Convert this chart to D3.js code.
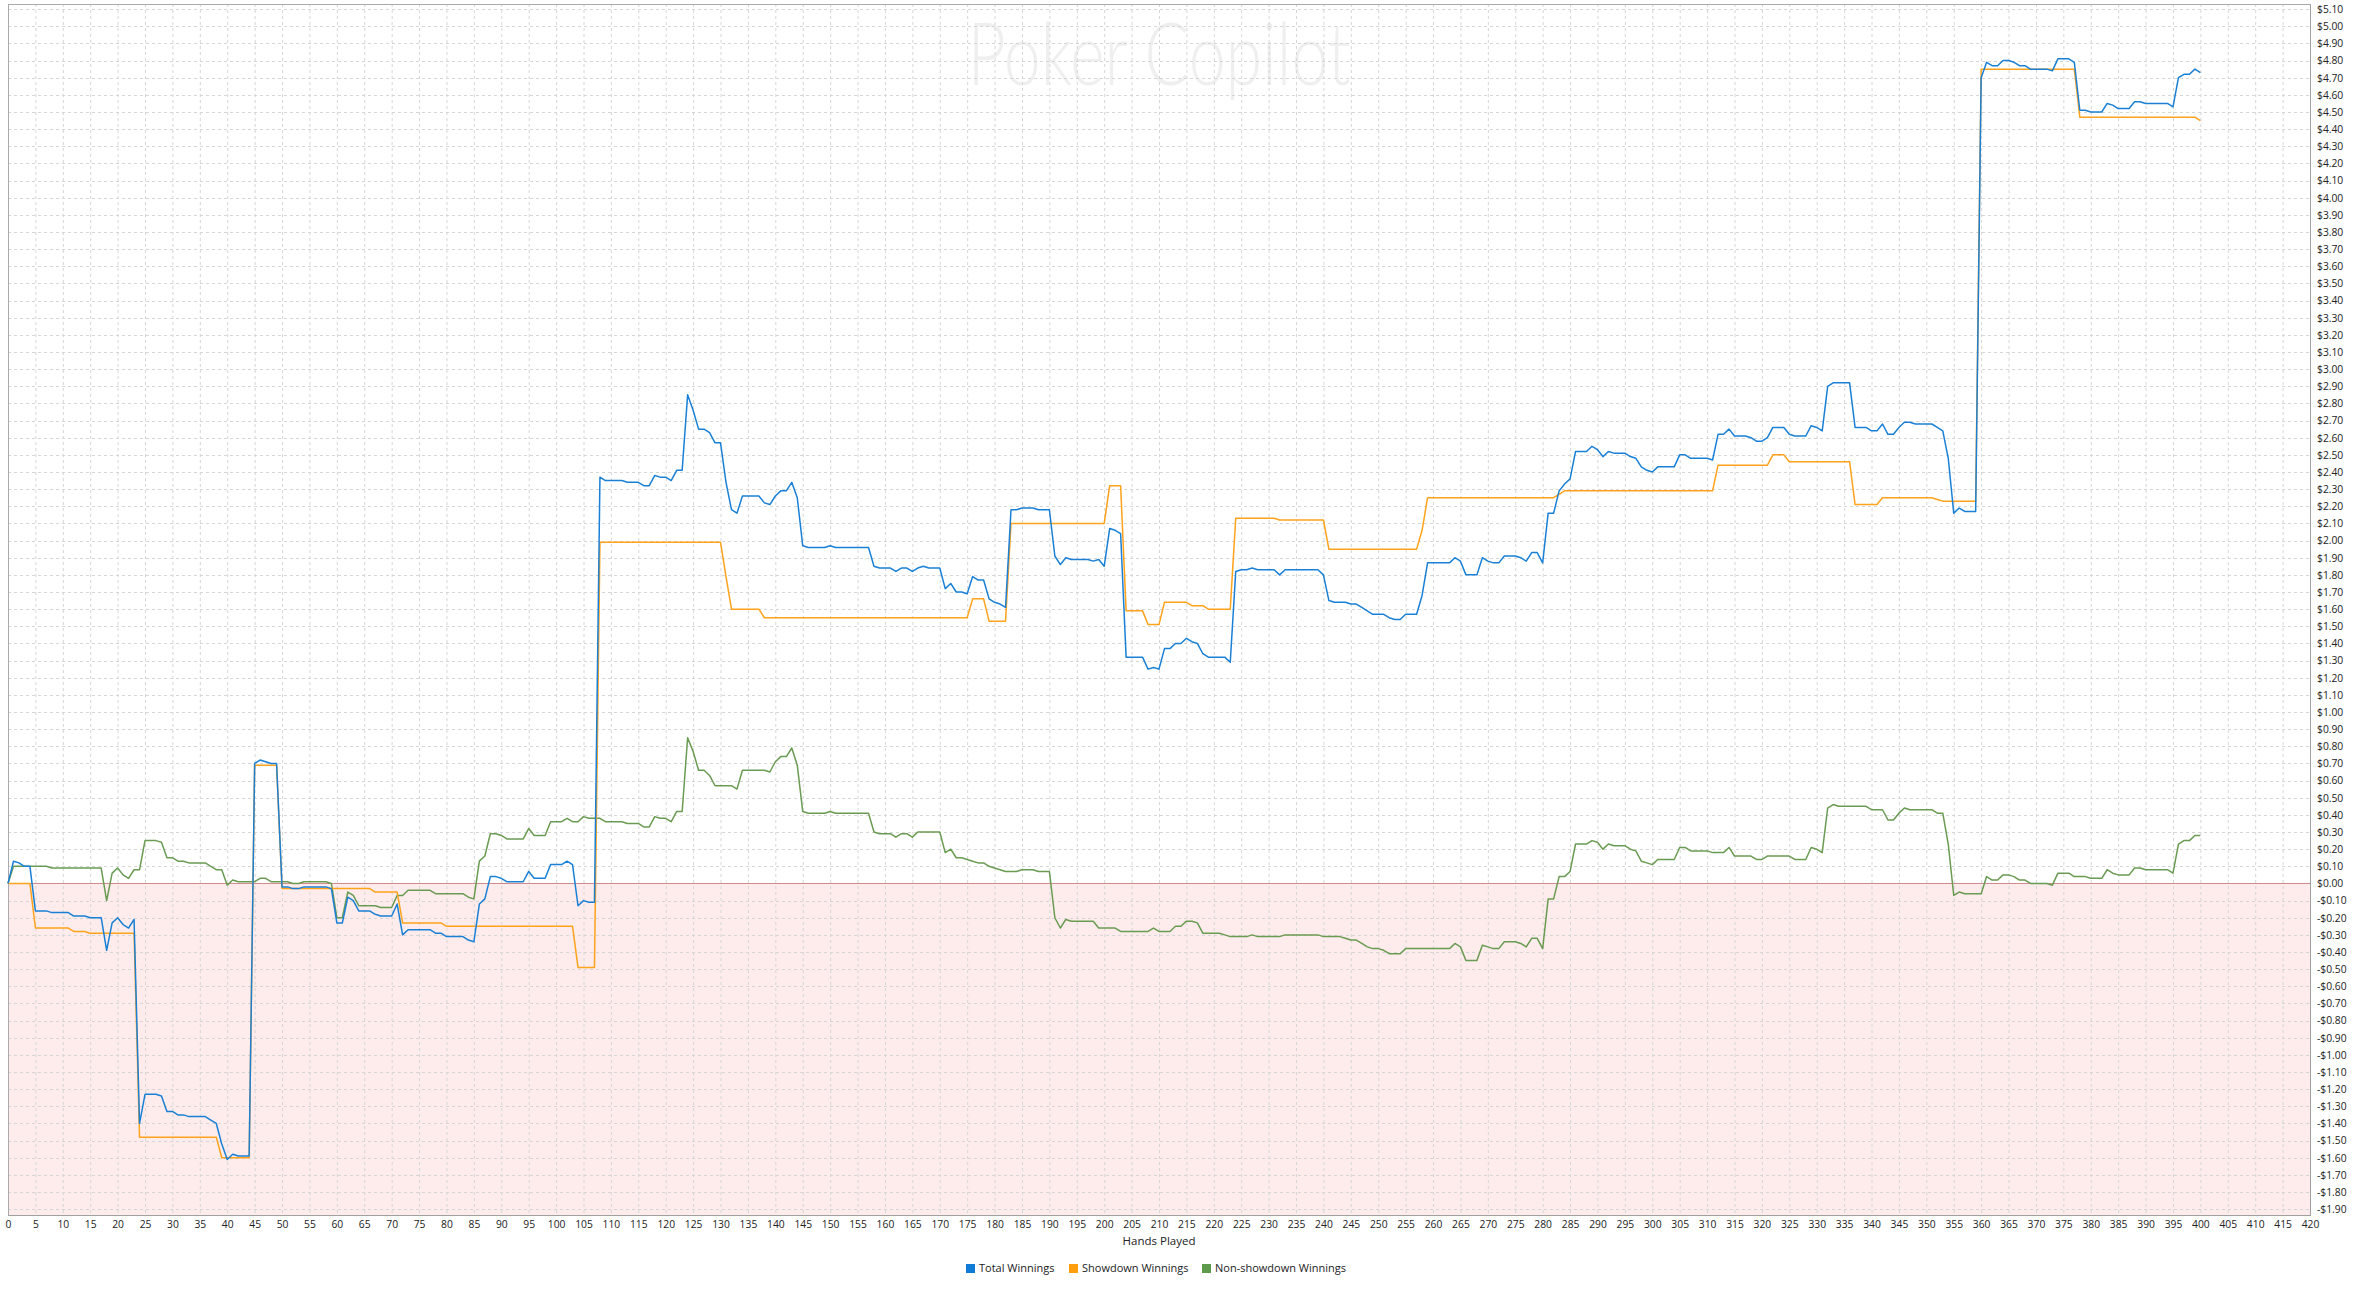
<!DOCTYPE html>
<html><head><meta charset="utf-8">
<script src="https://cdn.jsdelivr.net/npm/d3@7"></script>
<style>
html,body{margin:0;padding:0;background:#fff;}
svg{display:block;}
text{font-family:"Open Sans","Liberation Sans",sans-serif;fill:#222;}
</style></head><body>
<svg id="chart" width="2359" height="1290"></svg>
<script>
// ---------- DATA ----------
const seriesNames = ["Total Winnings", "Showdown Winnings", "Non-showdown Winnings"];
const seriesColors = ["#1a80d6", "#ffa21c", "#6a9b52"];
const legendColors = ["#0f7bd6", "#ff9f0f", "#5e9a4b"];

const totalWinnings = [
 0.00, 0.13, 0.12, 0.10, 0.10,-0.16,-0.16,-0.16,-0.17,-0.17,
-0.17,-0.17,-0.19,-0.19,-0.19,-0.20,-0.20,-0.20,-0.39,-0.23,
-0.20,-0.24,-0.26,-0.21,-1.40,-1.23,-1.23,-1.23,-1.24,-1.33,
-1.33,-1.35,-1.35,-1.36,-1.36,-1.36,-1.36,-1.38,-1.40,-1.52,
-1.61,-1.58,-1.59,-1.59,-1.59, 0.70, 0.72, 0.71, 0.70, 0.70,
-0.02,-0.02,-0.03,-0.03,-0.02,-0.02,-0.02,-0.02,-0.02,-0.03,
-0.23,-0.23,-0.08,-0.10,-0.16,-0.16,-0.16,-0.18,-0.19,-0.19,
-0.19,-0.12,-0.30,-0.27,-0.27,-0.27,-0.27,-0.27,-0.29,-0.29,
-0.31,-0.31,-0.31,-0.31,-0.33,-0.34,-0.12,-0.09, 0.04, 0.04,
 0.03, 0.01, 0.01, 0.01, 0.01, 0.07, 0.03, 0.03, 0.03, 0.11,
 0.11, 0.11, 0.13, 0.11,-0.13,-0.10,-0.11,-0.11, 2.37, 2.35,
 2.35, 2.35, 2.35, 2.34, 2.34, 2.34, 2.32, 2.32, 2.38, 2.37,
 2.37, 2.35, 2.41, 2.41, 2.85, 2.76, 2.65, 2.65, 2.63, 2.57,
 2.57, 2.34, 2.18, 2.16, 2.26, 2.26, 2.26, 2.26, 2.22, 2.21,
 2.26, 2.29, 2.29, 2.34, 2.25, 1.97, 1.96, 1.96, 1.96, 1.96,
 1.97, 1.96, 1.96, 1.96, 1.96, 1.96, 1.96, 1.96, 1.85, 1.84,
 1.84, 1.84, 1.82, 1.84, 1.84, 1.82, 1.84, 1.85, 1.84, 1.84,
 1.84, 1.72, 1.75, 1.70, 1.70, 1.69, 1.79, 1.77, 1.77, 1.66,
 1.64, 1.63, 1.61, 2.18, 2.18, 2.19, 2.19, 2.19, 2.18, 2.18,
 2.18, 1.91, 1.86, 1.90, 1.89, 1.89, 1.89, 1.89, 1.88, 1.89,
 1.85, 2.07, 2.06, 2.04, 1.32, 1.32, 1.32, 1.32, 1.25, 1.26,
 1.25, 1.37, 1.37, 1.40, 1.40, 1.43, 1.41, 1.40, 1.34, 1.32,
 1.32, 1.32, 1.32, 1.29, 1.82, 1.83, 1.83, 1.84, 1.83, 1.83,
 1.83, 1.83, 1.80, 1.83, 1.83, 1.83, 1.83, 1.83, 1.83, 1.83,
 1.80, 1.65, 1.64, 1.64, 1.64, 1.63, 1.63, 1.61, 1.59, 1.57,
 1.57, 1.57, 1.55, 1.54, 1.54, 1.57, 1.57, 1.57, 1.68, 1.87,
 1.87, 1.87, 1.87, 1.87, 1.90, 1.88, 1.80, 1.80, 1.80, 1.90,
 1.88, 1.87, 1.87, 1.91, 1.91, 1.91, 1.90, 1.88, 1.93, 1.93,
 1.87, 2.16, 2.16, 2.29, 2.33, 2.36, 2.52, 2.52, 2.52, 2.55,
 2.53, 2.49, 2.52, 2.51, 2.51, 2.51, 2.49, 2.48, 2.43, 2.41,
 2.40, 2.43, 2.43, 2.43, 2.43, 2.50, 2.50, 2.48, 2.48, 2.48,
 2.48, 2.47, 2.62, 2.62, 2.65, 2.61, 2.61, 2.61, 2.60, 2.58,
 2.58, 2.60, 2.66, 2.66, 2.66, 2.62, 2.61, 2.61, 2.61, 2.67,
 2.66, 2.64, 2.90, 2.92, 2.92, 2.92, 2.92, 2.66, 2.66, 2.66,
 2.64, 2.64, 2.68, 2.62, 2.62, 2.66, 2.69, 2.69, 2.68, 2.68,
 2.68, 2.68, 2.66, 2.64, 2.48, 2.16, 2.19, 2.17, 2.17, 2.17,
 4.70, 4.79, 4.77, 4.77, 4.80, 4.80, 4.79, 4.77, 4.77, 4.75,
 4.75, 4.75, 4.75, 4.74, 4.81, 4.81, 4.81, 4.79, 4.51, 4.51,
 4.50, 4.50, 4.50, 4.55, 4.54, 4.52, 4.52, 4.52, 4.56, 4.56,
 4.55, 4.55, 4.55, 4.55, 4.55, 4.53, 4.70, 4.72, 4.72, 4.75,
 4.73];

const showdownWinnings = [
 0.00, 0.00, 0.00, 0.00, 0.00,-0.26,-0.26,-0.26,-0.26,-0.26,
-0.26,-0.26,-0.28,-0.28,-0.28,-0.29,-0.29,-0.29,-0.29,-0.29,
-0.29,-0.29,-0.29,-0.29,-1.48,-1.48,-1.48,-1.48,-1.48,-1.48,
-1.48,-1.48,-1.48,-1.48,-1.48,-1.48,-1.48,-1.48,-1.48,-1.60,
-1.60,-1.60,-1.60,-1.60,-1.60, 0.69, 0.69, 0.69, 0.69, 0.69,
-0.03,-0.03,-0.03,-0.03,-0.03,-0.03,-0.03,-0.03,-0.03,-0.03,
-0.03,-0.03,-0.03,-0.03,-0.03,-0.03,-0.03,-0.05,-0.05,-0.05,
-0.05,-0.05,-0.23,-0.23,-0.23,-0.23,-0.23,-0.23,-0.23,-0.23,
-0.25,-0.25,-0.25,-0.25,-0.25,-0.25,-0.25,-0.25,-0.25,-0.25,
-0.25,-0.25,-0.25,-0.25,-0.25,-0.25,-0.25,-0.25,-0.25,-0.25,
-0.25,-0.25,-0.25,-0.25,-0.49,-0.49,-0.49,-0.49, 1.99, 1.99,
 1.99, 1.99, 1.99, 1.99, 1.99, 1.99, 1.99, 1.99, 1.99, 1.99,
 1.99, 1.99, 1.99, 1.99, 1.99, 1.99, 1.99, 1.99, 1.99, 1.99,
 1.99, 1.79, 1.60, 1.60, 1.60, 1.60, 1.60, 1.60, 1.55, 1.55,
 1.55, 1.55, 1.55, 1.55, 1.55, 1.55, 1.55, 1.55, 1.55, 1.55,
 1.55, 1.55, 1.55, 1.55, 1.55, 1.55, 1.55, 1.55, 1.55, 1.55,
 1.55, 1.55, 1.55, 1.55, 1.55, 1.55, 1.55, 1.55, 1.55, 1.55,
 1.55, 1.55, 1.55, 1.55, 1.55, 1.55, 1.66, 1.66, 1.66, 1.53,
 1.53, 1.53, 1.53, 2.10, 2.10, 2.10, 2.10, 2.10, 2.10, 2.10,
 2.10, 2.10, 2.10, 2.10, 2.10, 2.10, 2.10, 2.10, 2.10, 2.10,
 2.10, 2.32, 2.32, 2.32, 1.59, 1.59, 1.59, 1.59, 1.51, 1.51,
 1.51, 1.64, 1.64, 1.64, 1.64, 1.64, 1.62, 1.62, 1.62, 1.60,
 1.60, 1.60, 1.60, 1.60, 2.13, 2.13, 2.13, 2.13, 2.13, 2.13,
 2.13, 2.13, 2.12, 2.12, 2.12, 2.12, 2.12, 2.12, 2.12, 2.12,
 2.12, 1.95, 1.95, 1.95, 1.95, 1.95, 1.95, 1.95, 1.95, 1.95,
 1.95, 1.95, 1.95, 1.95, 1.95, 1.95, 1.95, 1.95, 2.06, 2.25,
 2.25, 2.25, 2.25, 2.25, 2.25, 2.25, 2.25, 2.25, 2.25, 2.25,
 2.25, 2.25, 2.25, 2.25, 2.25, 2.25, 2.25, 2.25, 2.25, 2.25,
 2.25, 2.25, 2.25, 2.27, 2.29, 2.29, 2.29, 2.29, 2.29, 2.29,
 2.29, 2.29, 2.29, 2.29, 2.29, 2.29, 2.29, 2.29, 2.29, 2.29,
 2.29, 2.29, 2.29, 2.29, 2.29, 2.29, 2.29, 2.29, 2.29, 2.29,
 2.29, 2.29, 2.44, 2.44, 2.44, 2.44, 2.44, 2.44, 2.44, 2.44,
 2.44, 2.44, 2.50, 2.50, 2.50, 2.46, 2.46, 2.46, 2.46, 2.46,
 2.46, 2.46, 2.46, 2.46, 2.46, 2.46, 2.46, 2.21, 2.21, 2.21,
 2.21, 2.21, 2.25, 2.25, 2.25, 2.25, 2.25, 2.25, 2.25, 2.25,
 2.25, 2.25, 2.24, 2.23, 2.23, 2.23, 2.23, 2.23, 2.23, 2.23,
 4.75, 4.75, 4.75, 4.75, 4.75, 4.75, 4.75, 4.75, 4.75, 4.75,
 4.75, 4.75, 4.75, 4.75, 4.75, 4.75, 4.75, 4.75, 4.47, 4.47,
 4.47, 4.47, 4.47, 4.47, 4.47, 4.47, 4.47, 4.47, 4.47, 4.47,
 4.47, 4.47, 4.47, 4.47, 4.47, 4.47, 4.47, 4.47, 4.47, 4.47,
 4.45];

const nonShowdownWinnings = [
 0.00, 0.10, 0.10, 0.10, 0.10, 0.10, 0.10, 0.10, 0.09, 0.09,
 0.09, 0.09, 0.09, 0.09, 0.09, 0.09, 0.09, 0.09,-0.10, 0.06,
 0.09, 0.05, 0.03, 0.08, 0.08, 0.25, 0.25, 0.25, 0.24, 0.15,
 0.15, 0.13, 0.13, 0.12, 0.12, 0.12, 0.12, 0.10, 0.08, 0.08,
-0.01, 0.02, 0.01, 0.01, 0.01, 0.01, 0.03, 0.03, 0.01, 0.01,
 0.01, 0.01, 0.00, 0.00, 0.01, 0.01, 0.01, 0.01, 0.01, 0.00,
-0.20,-0.20,-0.05,-0.07,-0.13,-0.13,-0.13,-0.13,-0.14,-0.14,
-0.14,-0.07,-0.07,-0.04,-0.04,-0.04,-0.04,-0.04,-0.06,-0.06,
-0.06,-0.06,-0.06,-0.06,-0.08,-0.09, 0.13, 0.16, 0.29, 0.29,
 0.28, 0.26, 0.26, 0.26, 0.26, 0.32, 0.28, 0.28, 0.28, 0.36,
 0.36, 0.36, 0.38, 0.36, 0.36, 0.39, 0.38, 0.38, 0.38, 0.36,
 0.36, 0.36, 0.36, 0.35, 0.35, 0.35, 0.33, 0.33, 0.39, 0.38,
 0.38, 0.36, 0.42, 0.42, 0.85, 0.77, 0.66, 0.66, 0.63, 0.57,
 0.57, 0.57, 0.57, 0.55, 0.66, 0.66, 0.66, 0.66, 0.66, 0.65,
 0.71, 0.74, 0.74, 0.79, 0.69, 0.42, 0.41, 0.41, 0.41, 0.41,
 0.42, 0.41, 0.41, 0.41, 0.41, 0.41, 0.41, 0.41, 0.30, 0.29,
 0.29, 0.29, 0.27, 0.29, 0.29, 0.27, 0.30, 0.30, 0.30, 0.30,
 0.30, 0.18, 0.20, 0.15, 0.15, 0.14, 0.13, 0.12, 0.12, 0.10,
 0.09, 0.08, 0.07, 0.07, 0.07, 0.08, 0.08, 0.08, 0.07, 0.07,
 0.07,-0.20,-0.26,-0.21,-0.22,-0.22,-0.22,-0.22,-0.22,-0.26,
-0.26,-0.26,-0.26,-0.28,-0.28,-0.28,-0.28,-0.28,-0.28,-0.26,
-0.28,-0.28,-0.28,-0.25,-0.25,-0.22,-0.22,-0.23,-0.29,-0.29,
-0.29,-0.29,-0.30,-0.31,-0.31,-0.31,-0.31,-0.30,-0.31,-0.31,
-0.31,-0.31,-0.31,-0.30,-0.30,-0.30,-0.30,-0.30,-0.30,-0.30,
-0.31,-0.31,-0.31,-0.31,-0.32,-0.33,-0.33,-0.35,-0.37,-0.38,
-0.38,-0.39,-0.41,-0.41,-0.41,-0.38,-0.38,-0.38,-0.38,-0.38,
-0.38,-0.38,-0.38,-0.38,-0.35,-0.37,-0.45,-0.45,-0.45,-0.36,
-0.37,-0.38,-0.38,-0.34,-0.34,-0.34,-0.35,-0.37,-0.32,-0.32,
-0.38,-0.09,-0.09, 0.04, 0.04, 0.07, 0.23, 0.23, 0.23, 0.25,
 0.24, 0.20, 0.23, 0.22, 0.22, 0.22, 0.20, 0.19, 0.13, 0.12,
 0.11, 0.14, 0.14, 0.14, 0.14, 0.21, 0.21, 0.19, 0.19, 0.19,
 0.19, 0.18, 0.18, 0.18, 0.21, 0.16, 0.16, 0.16, 0.16, 0.14,
 0.14, 0.16, 0.16, 0.16, 0.16, 0.16, 0.14, 0.14, 0.14, 0.21,
 0.20, 0.18, 0.44, 0.46, 0.45, 0.45, 0.45, 0.45, 0.45, 0.45,
 0.43, 0.43, 0.43, 0.37, 0.37, 0.41, 0.44, 0.43, 0.43, 0.43,
 0.43, 0.43, 0.41, 0.41, 0.23,-0.07,-0.05,-0.06,-0.06,-0.06,
-0.06, 0.04, 0.02, 0.02, 0.05, 0.05, 0.04, 0.02, 0.02, 0.00,
 0.00, 0.00, 0.00,-0.01, 0.06, 0.06, 0.06, 0.04, 0.04, 0.04,
 0.03, 0.03, 0.03, 0.08, 0.06, 0.05, 0.05, 0.05, 0.09, 0.09,
 0.08, 0.08, 0.08, 0.08, 0.08, 0.06, 0.23, 0.25, 0.25, 0.28,
 0.28];

const xTickValues = [0,5,10,15,20,25,30,35,40,45,50,55,60,65,70,75,80,85,90,95,
 100,105,110,115,120,125,130,135,140,145,150,155,160,165,170,175,180,185,190,195,
 200,205,210,215,220,225,230,235,240,245,250,255,260,265,270,275,280,285,290,295,
 300,305,310,315,320,325,330,335,340,345,350,355,360,365,370,375,380,385,390,395,
 400,405,410,415,420];

const yTickValues = [-1.90,-1.80,-1.70,-1.60,-1.50,-1.40,-1.30,-1.20,-1.10,-1.00,
 -0.90,-0.80,-0.70,-0.60,-0.50,-0.40,-0.30,-0.20,-0.10,0.00,
 0.10,0.20,0.30,0.40,0.50,0.60,0.70,0.80,0.90,1.00,
 1.10,1.20,1.30,1.40,1.50,1.60,1.70,1.80,1.90,2.00,
 2.10,2.20,2.30,2.40,2.50,2.60,2.70,2.80,2.90,3.00,
 3.10,3.20,3.30,3.40,3.50,3.60,3.70,3.80,3.90,4.00,
 4.10,4.20,4.30,4.40,4.50,4.60,4.70,4.80,4.90,5.00,5.10];

const xDomain = [0, 420];
const yDomain = [-1.934, 5.130];
const xAxisTitle = "Hands Played";
const watermarkText = "Poker Copilot";

// ---------- LAYOUT ----------
const plot = {left: 8, right: 2310, top: 4, bottom: 1215};
const svg = d3.select("#chart");
const x = d3.scaleLinear().domain(xDomain).range([plot.left, plot.right]);
const y = d3.scaleLinear().domain(yDomain).range([plot.bottom, plot.top]);

// negative background
svg.append("rect")
  .attr("x", plot.left).attr("y", y(0))
  .attr("width", plot.right - plot.left).attr("height", plot.bottom - y(0))
  .attr("fill", "#fdeceb");

// watermark
svg.append("text")
  .attr("x", (plot.left + plot.right) / 2).attr("y", 85)
  .attr("text-anchor", "middle")
  .attr("textLength", 383).attr("lengthAdjust", "spacingAndGlyphs")
  .style("font-family", "Lato, 'Open Sans', sans-serif")
  .style("font-weight", 300)
  .style("font-size", "86px")
  .style("fill", "#efefef")
  .text(watermarkText);

// grid
const grid = svg.append("g");
grid.selectAll("line.v").data(xTickValues).join("line")
  .attr("x1", d => x(d) + 0.5).attr("x2", d => x(d) + 0.5)
  .attr("y1", plot.top).attr("y2", plot.bottom)
  .attr("stroke", "#d6d6d6").attr("stroke-width", 1).attr("stroke-dasharray", "3,3");
grid.selectAll("line.h").data(yTickValues).join("line")
  .attr("x1", plot.left).attr("x2", plot.right)
  .attr("y1", d => Math.round(y(d)) + 0.5).attr("y2", d => Math.round(y(d)) + 0.5)
  .attr("stroke", "#d6d6d6").attr("stroke-width", 1).attr("stroke-dasharray", "3,3");

// zero line
svg.append("line")
  .attr("x1", plot.left).attr("x2", plot.right)
  .attr("y1", Math.round(y(0)) + 0.5).attr("y2", Math.round(y(0)) + 0.5)
  .attr("stroke", "#d08c8c").attr("stroke-width", 1.2);

// frame
svg.append("rect")
  .attr("x", plot.left + 0.5).attr("y", plot.top + 0.5)
  .attr("width", plot.right - plot.left).attr("height", plot.bottom - plot.top)
  .attr("fill", "none").attr("stroke", "#aaaaaa").attr("stroke-width", 1);

// axes
const xAxis = d3.axisBottom(x).tickValues(xTickValues).tickSize(0).tickPadding(6).tickFormat(d3.format("d"));
const gx = svg.append("g").attr("transform", `translate(0,${plot.bottom})`).call(xAxis);
gx.select(".domain").attr("stroke", "#a0a0a0");
gx.selectAll("text").style("font-size", "10.3px").style("fill", "#222").style("font-family", "'Open Sans', sans-serif");

const fmtMoney = v => (v < 0 ? "-$" : "$") + Math.abs(v).toFixed(2);
const yAxis = d3.axisRight(y).tickValues(yTickValues).tickSize(0).tickPadding(7).tickFormat(fmtMoney);
const gy = svg.append("g").attr("transform", `translate(${plot.right},0)`).call(yAxis);
gy.select(".domain").attr("stroke", "#a0a0a0");
gy.selectAll("text").style("font-size", "10.3px").style("fill", "#222").style("font-family", "'Open Sans', sans-serif");

// x title
svg.append("text")
  .attr("x", (plot.left + plot.right) / 2).attr("y", 1245)
  .attr("text-anchor", "middle")
  .style("font-size", "11.5px")
  .text(xAxisTitle);

// lines
const seriesData = [totalWinnings, showdownWinnings, nonShowdownWinnings];
const line = d3.line().x((d, i) => x(i)).y(d => y(d));
const linesG = svg.append("g");
[2, 1, 0].forEach(k => {
  linesG.append("path")
    .datum(seriesData[k])
    .attr("d", line)
    .attr("fill", "none")
    .attr("stroke", seriesColors[k])
    .attr("stroke-width", 1.5)
    .attr("stroke-linejoin", "round");
});

// legend
const legendX = [966, 1069, 1202];
const lg = svg.append("g");
seriesNames.forEach((name, k) => {
  lg.append("rect")
    .attr("x", legendX[k]).attr("y", 1264)
    .attr("width", 9).attr("height", 9)
    .attr("fill", legendColors[k]);
  lg.append("text")
    .attr("x", legendX[k] + 13).attr("y", 1272)
    .style("font-size", "11px")
    .text(name);
});
</script>
</body></html>
